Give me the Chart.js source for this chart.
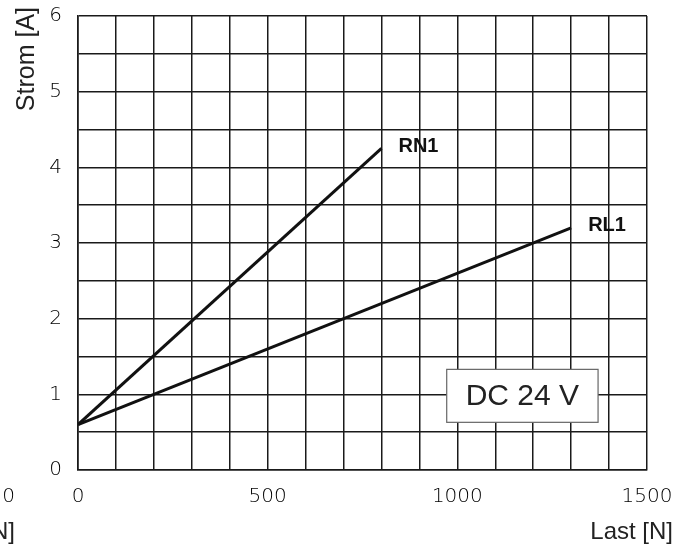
<!DOCTYPE html>
<html>
<head>
<meta charset="utf-8">
<script src="https://cdn.jsdelivr.net/npm/chart.js@4/dist/chart.umd.min.js"></script>
<style>
  html, body { margin: 0; padding: 0; background: #fff; }
  #wrap { width: 691px; height: 547px; position: relative; }
</style>
</head>
<body>
<div id="wrap"><canvas id="stromChart"></canvas></div>
<script>
// Stromaufnahme ueber Last, DC 24 V
var seriesNames = ["RN1", "RL1"];
var rn1Last = [0, 800];
var rn1Strom = [0.6, 4.25];
var rl1Last = [0, 1300];
var rl1Strom = [0.6, 3.2];
var xTickLabels = [0, 500, 1000, 1500];
var yTickLabels = [0, 1, 2, 3, 4, 5, 6];

var tickFont = { family: "'DejaVu Sans'", size: 20, weight: 200 };
var ink = "#1a1a1a";

function toPoints(xs, ys) {
  var pts = [];
  for (var i = 0; i < xs.length; i++) {
    pts.push({ x: xs[i], y: ys[i] });
  }
  return pts;
}

// labels, box and axis titles drawn on top of the grid
var extras = {
  id: "extras",
  afterDatasetsDraw: function (chart) {
    var ctx = chart.ctx;
    var xs = chart.scales.x, ys = chart.scales.y;
    ctx.save();

    // series names at the line ends
    ctx.fillStyle = "#111";
    ctx.font = "bold 20px 'Liberation Sans', Arial, sans-serif";
    ctx.textAlign = "left";
    ctx.textBaseline = "middle";
    for (var i = 0; i < seriesNames.length; i++) {
      var pts = chart.getDatasetMeta(i).data;
      var end = pts[pts.length - 1];
      ctx.fillText(seriesNames[i], end.x + 17, end.y - 2);
    }

    // DC 24 V box
    var bx0 = xs.getPixelForValue(972), bx1 = xs.getPixelForValue(1371);
    var by0 = ys.getPixelForValue(1.33), by1 = ys.getPixelForValue(0.63);
    ctx.fillStyle = "#fff";
    ctx.fillRect(bx0, by0, bx1 - bx0, by1 - by0);
    ctx.strokeStyle = "#666";
    ctx.lineWidth = 1.2;
    ctx.strokeRect(bx0, by0, bx1 - bx0, by1 - by0);
    ctx.fillStyle = "#222";
    ctx.font = "30px 'Liberation Sans', Arial, sans-serif";
    ctx.textAlign = "center";
    ctx.textBaseline = "middle";
    ctx.fillText("DC 24 V", (bx0 + bx1) / 2, (by0 + by1) / 2 + 1);

    // axis titles
    ctx.fillStyle = "#222";
    ctx.font = "24px 'Liberation Sans', Arial, sans-serif";
    ctx.textAlign = "right";
    ctx.textBaseline = "alphabetic";
    ctx.fillText("Last [N]", 673, 539);
    // cut-off part of the neighbouring chart
    ctx.fillText("Last [N]", 15, 539);

    ctx.save();
    ctx.translate(34, 7);
    ctx.rotate(-Math.PI / 2);
    ctx.font = "25px 'Liberation Sans', Arial, sans-serif";
    ctx.fillText("Strom [A]", 0, 0);
    ctx.restore();

    ctx.fillStyle = "#000";
    ctx.font = "200 20px 'DejaVu Sans'";
    ctx.textAlign = "right";
    ctx.textBaseline = "middle";
    ctx.fillText("0", 15, 497);

    ctx.restore();
  }
};

var ctx = document.getElementById("stromChart");
var chart = new Chart(ctx, {
  type: "scatter",
  data: {
    datasets: [{
      label: seriesNames[0],
      data: toPoints(rn1Last, rn1Strom),
      showLine: true,
      borderColor: "#111",
      borderWidth: 3,
      pointRadius: 0,
      fill: false
    }, {
      label: seriesNames[1],
      data: toPoints(rl1Last, rl1Strom),
      showLine: true,
      borderColor: "#111",
      borderWidth: 3,
      pointRadius: 0,
      fill: false
    }]
  },
  options: {
    responsive: true,
    maintainAspectRatio: false,
    animation: false,
    layout: { padding: { top: 16, right: 44, left: 0, bottom: 0 } },
    plugins: {
      legend: { display: false },
      tooltip: { enabled: false }
    },
    scales: {
      x: {
        type: "linear",
        min: 0,
        max: 1500,
        afterFit: function (scale) {
          scale.height = 77;
          scale.paddingLeft = 0;
          scale.paddingRight = 0;
        },
        grid: { color: ink, lineWidth: 1.5, drawTicks: false },
        border: { color: ink, width: 1.6 },
        ticks: {
          stepSize: 100,
          autoSkip: false,
          maxRotation: 0,
          padding: 15,
          color: "#000",
          font: tickFont,
          callback: function (v) { return xTickLabels.indexOf(v) >= 0 ? String(v) : ""; }
        }
      },
      y: {
        type: "linear",
        min: 0,
        max: 6,
        afterFit: function (scale) {
          scale.width = 78;
          scale.paddingTop = 0;
          scale.paddingBottom = 0;
        },
        grid: { color: ink, lineWidth: 1.5, drawTicks: false },
        border: { color: ink, width: 1.6 },
        ticks: {
          stepSize: 0.5,
          autoSkip: false,
          padding: 16,
          color: "#000",
          font: tickFont,
          callback: function (v) { return yTickLabels.indexOf(v) >= 0 ? String(v) : ""; }
        }
      }
    }
  },
  plugins: [extras]
});
</script>
</body>
</html>
